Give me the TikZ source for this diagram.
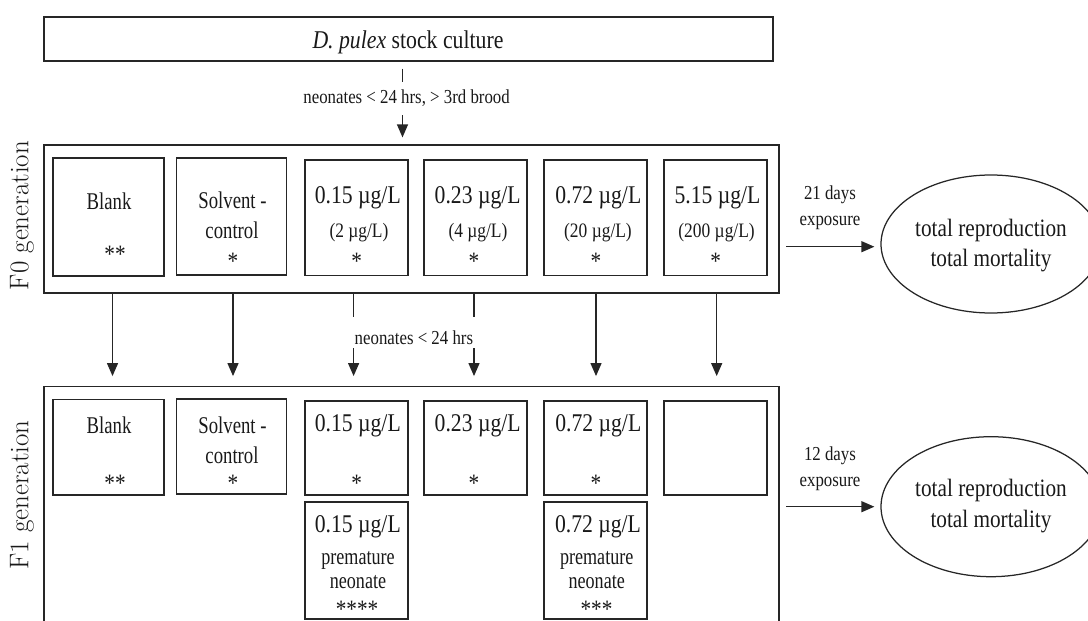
\documentclass[tikz,border=0pt]{standalone}
\usepackage{fontspec}
\newfontfamily\tnr[FakeStretch=0.85]{Liberation Serif}
\newfontfamily\tnrn[FakeStretch=0.78]{Liberation Serif}
\usetikzlibrary{arrows.meta,shapes.geometric}

\tikzset{
  box/.style={draw=black!85,line width=1.25pt,rectangle,inner sep=0pt},
  oval/.style={draw=black!85,line width=1.25pt,ellipse,inner sep=0pt,minimum width=220pt},
  conn/.style={draw=black!85,line width=1.25pt},
  arr/.style={conn,-{Triangle[length=13pt,width=11pt]}},
  txt/.style={inner sep=0pt,anchor=base,text=black!90},
  ttltext/.style={txt,font=\tnr\fontsize{25.6}{26}\selectfont},
  grptext/.style={txt,font=\tnrn\fontsize{24}{24}\selectfont},
  conctext/.style={txt,font=\tnr\fontsize{25.5}{26}\selectfont},
  subtext/.style={txt,font=\tnr\fontsize{20.5}{21}\selectfont},
  smalltext/.style={txt,font=\tnr\fontsize{19.8}{20}\selectfont},
  premtext/.style={txt,font=\tnrn\fontsize{23.2}{23}\selectfont},
  startext/.style={txt,font=\tnr\fontsize{25}{25}\selectfont},
  restext/.style={txt,font=\tnr\fontsize{25}{25}\selectfont},
  gentext/.style={inner sep=0pt,rotate=90,text=black!90,font=\fontsize{27}{27}\selectfont},
}

\begin{document}
\begin{tikzpicture}[x=1pt,y=-1pt]
\useasboundingbox (0,0) rectangle (1088,621);

% stock culture
\node[box,minimum width=729pt,minimum height=44pt] (top) at (408.5,39) {};
\node[ttltext] (ttl) at (408,48.3) {\textit{D. pulex} stock culture};

% generation frames
\node[box,minimum width=735pt,minimum height=148pt] (F0) at (411.5,219) {};
\node[box,minimum width=735pt,minimum height=253.3pt] (F1) at (411.5,513.35) {};
\node[gentext] (g0) at (22,215.5) {F0 generation};
\node[gentext] (g1) at (22,495) {F1 generation};

% F0 treatments
\node[box,minimum width=111pt,minimum height=118pt] (f0a) at (108.5,217) {};
\node[box,minimum width=110pt,minimum height=117pt] (f0b) at (231.7,216.6) {};
\node[box,minimum width=103pt,minimum height=115.6pt] (f0c) at (356.5,217.8) {};
\node[box,minimum width=103pt,minimum height=115.6pt] (f0d) at (475.5,217.8) {};
\node[box,minimum width=103pt,minimum height=115.6pt] (f0e) at (595.5,217.8) {};
\node[box,minimum width=103pt,minimum height=115.6pt] (f0f) at (715.5,217.8) {};

\node[grptext] (f0a1) at (109,209.5) {Blank};
\node[startext] (f0a2) at (115,262) {**};
\node[grptext] (f0b1) at (232.5,208) {Solvent -};
\node[grptext] (f0b2) at (232,238.5) {control};
\node[startext] (f0b3) at (233,269) {*};
\node[conctext] (f0c1) at (357.8,203.3) {0.15 µg/L};
\node[subtext]  (f0c2) at (359,237) {(2 µg/L)};
\node[startext] (f0c3) at (356.7,269) {*};
\node[conctext] (f0d1) at (477.7,203.3) {0.23 µg/L};
\node[subtext]  (f0d2) at (478,237) {(4 µg/L)};
\node[startext] (f0d3) at (474,269) {*};
\node[conctext] (f0e1) at (598.3,203.3) {0.72 µg/L};
\node[subtext]  (f0e2) at (598,237) {(20 µg/L)};
\node[startext] (f0e3) at (596,269) {*};
\node[conctext] (f0f1) at (717.5,203.3) {5.15 µg/L};
\node[subtext]  (f0f2) at (716.6,237) {(200 µg/L)};
\node[startext] (f0f3) at (715.6,269) {*};

% F1 treatments
\node[box,minimum width=111pt,minimum height=95.7pt] (f1a) at (108.5,447.15) {};
\node[box,minimum width=110pt,minimum height=95pt] (f1b) at (231.7,446.5) {};
\node[box,minimum width=103pt,minimum height=94pt] (f1c) at (356.5,448) {};
\node[box,minimum width=103pt,minimum height=94pt] (f1d) at (475.5,448) {};
\node[box,minimum width=103pt,minimum height=94pt] (f1e) at (595.5,448) {};
\node[box,minimum width=103pt,minimum height=94pt] (f1f) at (715.5,448) {};
\node[box,minimum width=103pt,minimum height=117pt] (p1) at (356.5,560.5) {};
\node[box,minimum width=103pt,minimum height=117pt] (p2) at (595.5,560.5) {};

\node[grptext] (f1a1) at (109,433) {Blank};
\node[startext] (f1a2) at (115,491.5) {**};
\node[grptext] (f1b1) at (232.5,433) {Solvent -};
\node[grptext] (f1b2) at (232,463.5) {control};
\node[startext] (f1b3) at (233,491.5) {*};
\node[conctext] (f1c1) at (357.8,431) {0.15 µg/L};
\node[startext] (f1c2) at (356.7,491.5) {*};
\node[conctext] (f1d1) at (477.7,431) {0.23 µg/L};
\node[startext] (f1d2) at (474,491.5) {*};
\node[conctext] (f1e1) at (598.3,431) {0.72 µg/L};
\node[startext] (f1e2) at (596,491.5) {*};

\node[conctext] (p11) at (357.8,532.5) {0.15 µg/L};
\node[premtext] (p12) at (358,564) {premature};
\node[premtext] (p13) at (358,588) {neonate};
\node[startext] (p14) at (357,617.5) {****};
\node[conctext] (p21) at (598,532.5) {0.72 µg/L};
\node[premtext] (p22) at (596.7,564) {premature};
\node[premtext] (p23) at (596.7,588) {neonate};
\node[startext] (p24) at (596.5,617.5) {***};

% outcomes
\node[oval,minimum height=138pt] (e0) at (991,244) {};
\node[restext] (e0a) at (991,236) {total reproduction};
\node[restext] (e0b) at (991,266.5) {total mortality};
\node[oval,minimum height=140pt] (e1) at (991,506.7) {};
\node[restext] (e1a) at (991,496) {total reproduction};
\node[restext] (e1b) at (991,527.3) {total mortality};

% stock culture -> F0
\coordinate (t1) at (402.5,82);
\coordinate (t2) at (402.5,115);
\draw[conn,shorten <=7pt] (top.south -| t1) -- (t1);
\node[smalltext] (lbl0) at (406.6,103.3) {neonates < 24 hrs, > 3rd brood};
\draw[arr,shorten >=7pt] (t2) -- (F0.north -| t2);

% F0 -> F1
\draw[arr,shorten >=10pt] (F0.south -| 112.5,0) -- (F1.north -| 112.5,0);
\draw[arr,shorten >=10pt] (F0.south -| 233,0) -- (F1.north -| 233,0);
\coordinate (c1) at (353.6,316.7);
\coordinate (c2) at (353.6,348.3);
\coordinate (d1) at (474,316.7);
\coordinate (d2) at (474,348.3);
\draw[conn] (F0.south -| c1) -- (c1);
\draw[arr,shorten >=10pt] (c2) -- (F1.north -| c2);
\draw[conn] (F0.south -| d1) -- (d1);
\draw[arr,shorten >=10pt] (d2) -- (F1.north -| d2);
\node[smalltext] (lbl1) at (413.9,344.3) {neonates < 24 hrs};
\draw[arr,shorten >=10pt] (F0.south -| 596,0) -- (F1.north -| 596,0);
\draw[arr,shorten >=10pt] (F0.south -| 716.7,0) -- (F1.north -| 716.7,0);

% exposure -> outcomes
\draw[arr,shorten <=6.6pt,shorten >=6pt] (F0.east |- 0,246.7) -- (e0.west |- 0,246.7);
\node[smalltext] (x0a) at (830,199.5) {21 days};
\node[smalltext] (x0b) at (830,225.5) {exposure};
\draw[arr,shorten <=6.6pt,shorten >=6pt] (F1.east |- 0,506.7) -- (e1.west |- 0,506.7);
\node[smalltext] (x1a) at (830,460.7) {12 days};
\node[smalltext] (x1b) at (830,486.7) {exposure};
\end{tikzpicture}
\end{document}
